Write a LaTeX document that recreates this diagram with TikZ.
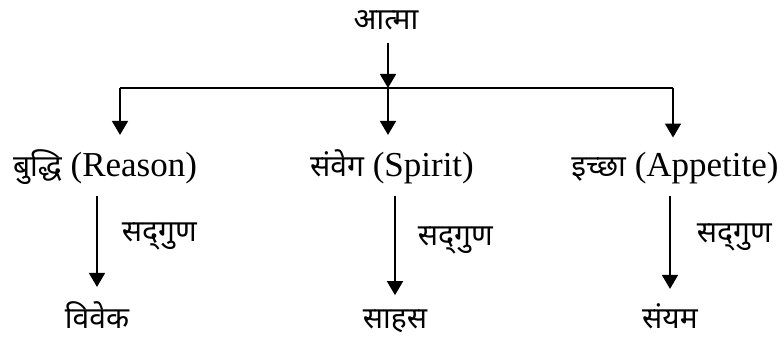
\documentclass[tikz,border=0pt]{standalone}
\usepackage{fontspec}
\setmainfont{Liberation Serif}
\newfontfamily\hindi[Script=Devanagari]{Noto Sans}
\usetikzlibrary{arrows.meta,positioning}

\newcommand\hin[1]{{\hindi\fontsize{30}{34}\selectfont #1}}

\tikzset{
  arr/.style={line width=1.8pt, -{Triangle[width=16pt,length=14pt]}},
  link/.style={line width=1.8pt},
  dev/.style={font=\hindi\fontsize{30}{34}\selectfont, inner sep=0pt, anchor=base},
  mix/.style={font=\fontsize{35}{40}\selectfont, inner sep=0pt, anchor=base},
}

\begin{document}
\begin{tikzpicture}[x=1pt,y=-1pt]
  \useasboundingbox (0,0) rectangle (784,342);

  % Define the root and the branch points
  \node[dev] (atma) at (386,30) {आत्मा};
  \coordinate (hub) at (388,88);
  \coordinate (hubL) at (120,88);
  \coordinate (hubR) at (673,88);

  % Second row: the three parts
  \node[mix] (reason) at (105,176) {\hin{बुद्धि} (Reason)};
  \node[mix] (spirit) at (392,176) {\hin{संवेग} (Spirit)};
  \node[mix] (appetite) at (675,176) {\hin{इच्छा} (Appetite)};

  % Third row: the virtues
  \node[dev] (viveka) at (97,328) {विवेक};
  \node[dev] (saahas) at (395,328) {साहस};
  \node[dev] (sanyam) at (670,328) {संयम};

  % Draw the tree
  \draw[arr, shorten <=12pt] (atma.south -| hub) -- (hub);
  \draw[link] (hubL) -- (hubR);
  \draw[arr, shorten >=14pt] (hubL) -- (hubL |- reason.north);
  \draw[arr, shorten >=14pt] (hub) -- (hub |- spirit.north);
  \draw[arr, shorten >=14pt] (hubR) -- (hubR |- appetite.north);

  % Draw the virtue arrows with their labels
  \draw[arr, shorten <=12pt, shorten >=14pt] (reason.south -| viveka) -- node[midway, right=24pt, yshift=6pt, dev, anchor=west] (v1) {सद्‌गुण} (viveka.north);
  \draw[arr, shorten <=12pt, shorten >=14pt] (spirit.south -| saahas) -- node[midway, right=22pt, yshift=6pt, dev, anchor=west] (v2) {सद्‌गुण} (saahas.north);
  \draw[arr, shorten <=12pt, shorten >=14pt] (appetite.south -| sanyam) -- node[midway, right=26pt, yshift=6pt, dev, anchor=west] (v3) {सद्‌गुण} (sanyam.north);
\end{tikzpicture}
\end{document}
